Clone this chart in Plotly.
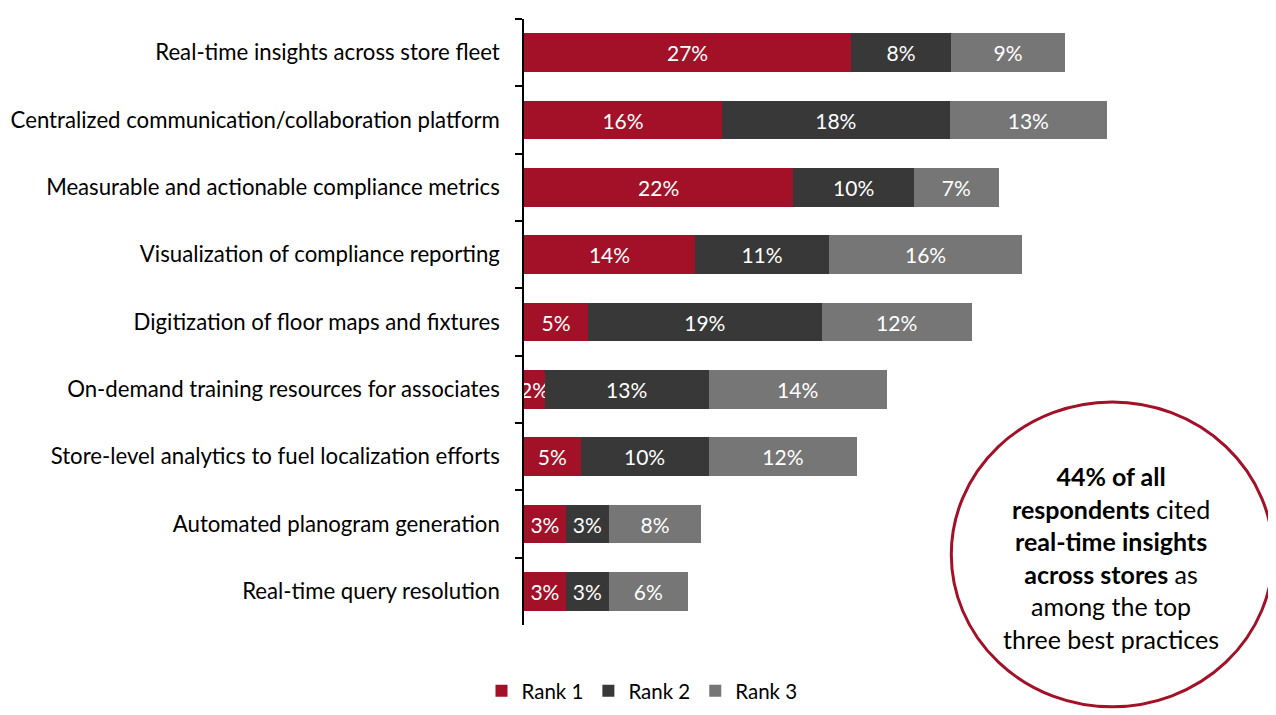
import plotly.graph_objects as go

categories = [
    "Real-time insights across store fleet",
    "Centralized communication/collaboration platform",
    "Measurable and actionable compliance metrics",
    "Visualization of compliance reporting",
    "Digitization of floor maps and fixtures",
    "On-demand training resources for associates",
    "Store-level analytics to fuel localization efforts",
    "Automated planogram generation",
    "Real-time query resolution",
]

# shares of respondents (%)
rank1 = [26.6, 16.1, 21.9, 13.9, 5.2, 1.7, 4.6, 3.4, 3.4]
rank2 = [8.1, 18.5, 9.8, 10.9, 19.0, 13.3, 10.4, 3.5, 3.5]
rank3 = [9.3, 12.8, 6.9, 15.7, 12.2, 14.5, 12.1, 7.5, 6.4]

# printed labels
rank1_labels = ["27%", "16%", "22%", "14%", "5%", "2%", "5%", "3%", "3%"]
rank2_labels = ["8%", "18%", "10%", "11%", "19%", "13%", "10%", "3%", "3%"]
rank3_labels = ["9%", "13%", "7%", "16%", "12%", "14%", "12%", "8%", "6%"]

series = [
    ("Rank 1", rank1, rank1_labels, "#A31128"),
    ("Rank 2", rank2, rank2_labels, "#383838"),
    ("Rank 3", rank3, rank3_labels, "#767676"),
]

FONT = "Lato"

fig = go.Figure()
for name, vals, labels, color in series:
    fig.add_trace(go.Bar(
        y=categories,
        x=vals,
        name=name,
        orientation="h",
        marker=dict(color=color, line=dict(width=0)),
        text=labels,
        textposition="inside",
        insidetextanchor="middle",
        textangle=0,
        constraintext="none",
        textfont=dict(color="white", size=21, family=FONT),
        cliponaxis=False,
        hoverinfo="name+x",
    ))

# page body has an 8px offset, so the figure is 8px smaller than the window
fig.update_layout(
    barmode="stack",
    bargap=0.43,
    width=1268,
    height=707,
    margin=dict(l=516, r=14, t=11, b=90),
    plot_bgcolor="white",
    paper_bgcolor="white",
    font=dict(family=FONT, color="black", size=21),
    xaxis=dict(range=[0, 60], visible=False, fixedrange=True, automargin=False),
    yaxis=dict(
        autorange="reversed",
        automargin=False,
        showline=True,
        linecolor="black",
        linewidth=1.5,
        ticks="outside",
        tickson="boundaries",
        ticklen=7,
        tickcolor="black",
        tickwidth=1.5,
        ticklabelstandoff=18,
        tickfont=dict(size=22.2, family=FONT, color="black"),
        showgrid=False,
        zeroline=False,
    ),
    legend=dict(
        orientation="h",
        xref="container", yref="container",
        x=0.5, y=0.034,
        xanchor="center", yanchor="middle",
        font=dict(size=20.5, family=FONT),
        itemwidth=30,
        traceorder="normal",
    ),
    showlegend=True,
)

# callout circle
fig.add_shape(
    type="circle",
    xref="paper", yref="paper",
    x0=0.579, x1=1.015, y0=-0.135, y1=0.368,
    line=dict(color="#A31128", width=3),
    fillcolor="rgba(0,0,0,0)",
)
fig.add_annotation(
    xref="paper", yref="paper",
    x=0.7954, y=0.111,
    text=("<b>44% of all</b><br><b>respondents</b> cited<br>"
          "<b>real-time insights</b><br><b>across stores</b> as<br>"
          "among the top<br>three best practices"),
    showarrow=False,
    align="center",
    font=dict(size=25, family=FONT, color="black"),
    xanchor="center", yanchor="middle",
)

fig.write_html("out.html")
